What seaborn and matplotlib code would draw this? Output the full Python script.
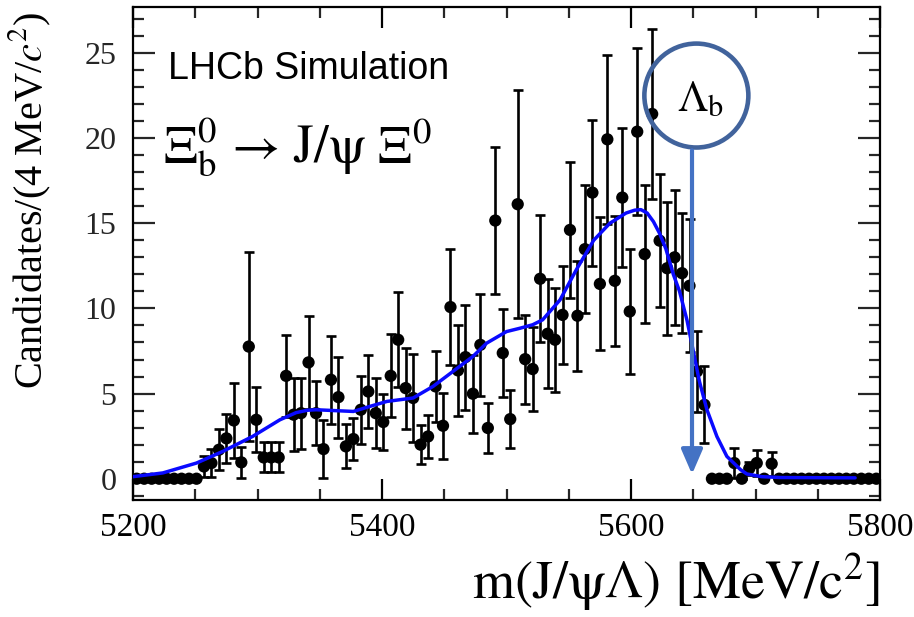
import numpy as np
import pandas as pd
import matplotlib
matplotlib.use("Agg")
import matplotlib.pyplot as plt
import seaborn as sns
from matplotlib.patches import Ellipse
from matplotlib.ticker import MultipleLocator

# ---------------------------------------------------------------
# Data
# ---------------------------------------------------------------
mass_lo, mass_hi, n_bins = 5200, 5800, 100
bin_centres = mass_lo + (np.arange(n_bins) + 0.5) * (mass_hi - mass_lo) / n_bins

counts = [0] * 9 + [
    0.72, 0.92, 1.7, 2.37, 3.42, 0.96, 7.76, 3.46, 1.25, 1.25, 1.25, 6.04,
    3.76, 3.85, 6.83, 3.85, 1.74, 5.81, 4.79, 1.9, 2.33, 4.05, 5.12, 3.85,
    3.33, 6.04, 8.16, 5.32, 4.74, 2.0, 2.48, 5.42, 3.11, 10.08, 6.36, 7.14,
    4.99, 7.86, 2.98, 15.16, 7.38, 3.50, 16.12, 7.02, 6.44, 11.74, 8.51, 8.16,
    9.62, 14.61, 9.57, 13.48, 16.8, 11.44, 19.93, 11.62, 16.51, 9.82, 20.38,
    13.19, 21.42, 13.98, 12.36, 13.0, 12.07, 11.33, 6.3, 4.34,
] + [0, 0, 0, 0.92, 0, 0.6, 0.92, 0, 0.88] + [0] * 14

errors = [0] * 9 + [
    0.63, 0.83, 1.2, 1.44, 2.2, 0.9, 5.56, 1.9, 0.88, 0.88, 0.88, 2.4,
    2.15, 2.08, 2.74, 1.88, 1.69, 2.58, 2.37, 1.3, 1.24, 2.0, 2.17, 2.05,
    1.62, 2.44, 2.79, 2.38, 2.58, 1.14, 1.24, 2.08, 1.94, 3.42, 2.67, 3.08,
    2.28, 3.0, 1.47, 4.3, 2.61, 1.72, 6.7, 2.61, 2.45, 3.74, 3.2, 3.06,
    2.9, 4.0, 3.22, 3.74, 4.28, 3.91, 4.98, 3.81, 4.08, 3.69, 4.89,
    4.04, 4.99, 3.91, 3.91, 3.97, 3.52, 3.9, 2.4, 2.27,
] + [0, 0, 0, 0.88, 0, 0.4, 0.76, 0, 0.7] + [0] * 14

# fit curve
fit_mass = [5200, 5224, 5251, 5272, 5296, 5318, 5331, 5340, 5347, 5362, 5377,
            5390, 5404, 5425, 5441, 5457, 5473, 5484, 5500, 5511, 5521, 5529,
            5543, 5556, 5570, 5583, 5596, 5603, 5608, 5613, 5618, 5623, 5628,
            5634, 5639, 5645, 5650, 5655, 5661, 5669, 5677, 5688, 5693, 5705,
            5720, 5780]
fit_value = [0.12, 0.34, 0.92, 1.6, 2.48, 3.46, 3.88, 4.02, 4.05, 4.0, 3.95,
             4.24, 4.54, 4.74, 5.42, 6.3, 7.18, 7.96, 8.64, 8.84, 9.04, 9.33,
             10.5, 12.26, 14.0, 15.0, 15.6, 15.77, 15.8, 15.6, 15.1, 14.4,
             13.5, 12.0, 11.0, 9.3, 7.5, 5.7, 4.05, 2.48, 1.31, 0.53, 0.28,
             0.12, 0.07, 0.05]

df = pd.DataFrame({"mass": bin_centres, "count": counts, "err": errors})
fit = pd.DataFrame({"mass": fit_mass, "value": fit_value})

# ---------------------------------------------------------------
# Style
# ---------------------------------------------------------------
sns.set_theme(style="ticks")
plt.rcParams["font.family"] = ["Liberation Serif", "DejaVu Serif"]
plt.rcParams["mathtext.fontset"] = "stix"
plt.rcParams["axes.linewidth"] = 1.6

fig = plt.figure(figsize=(9.14, 6.17), dpi=100)
ax = fig.add_axes([133 / 914, 1 - 500 / 617, 747 / 914, 493 / 617])

# data points with error bars
ax.errorbar(df["mass"], df["count"], yerr=df["err"], fmt="none",
            ecolor="black", elinewidth=1.9, capsize=3.5, capthick=1.9, zorder=2)
sns.scatterplot(data=df, x="mass", y="count", color="black", s=78,
                edgecolor="none", ax=ax, zorder=3)

# fit
sns.lineplot(data=fit, x="mass", y="value", color="#0a0aff", linewidth=2.5,
             ax=ax, zorder=4)

ax.set_xlim(5200, 5800)
ax.set_ylim(-1.25, 27.7)
ax.set_xlabel("")
ax.set_ylabel("")

ax.xaxis.set_major_locator(MultipleLocator(200))
ax.xaxis.set_minor_locator(MultipleLocator(50))
ax.yaxis.set_major_locator(MultipleLocator(5))
ax.yaxis.set_minor_locator(MultipleLocator(1))

ax.tick_params(axis="x", which="major", direction="in", length=15, width=1.6,
               labelsize=24, pad=9, colors="black")
ax.tick_params(axis="x", which="minor", direction="in", length=8, width=1.6)
ax.tick_params(axis="y", which="major", direction="in", length=16, width=1.6,
               labelsize=23, pad=12, right=True)
ax.tick_params(axis="y", which="minor", direction="in", length=8, width=1.6,
               right=True)
ax.tick_params(axis="x", which="both", top=True)
for s in ax.spines.values():
    s.set_color("black")

# axis titles
fig.text(30 / 914, 1 - 200 / 617, r"Candidates/(4 MeV/$c^{2}$)", rotation=90,
         ha="center", va="center", fontsize=29, color="black")
fig.text(880 / 914, 1 - 583 / 617, r"m(J/ψΛ) [MeV/c$^{2}$]",
         ha="right", va="center", fontsize=39, family="STIXGeneral",
         color="black")

# labels
ax.text(0.047, 0.875, "LHCb Simulation", transform=ax.transAxes,
        fontsize=27, family=["Liberation Sans", "DejaVu Sans"], ha="left",
        va="center", color="black")
ax.text(0.04, 0.715, r"$\Xi_{\mathrm{b}}^{0}$ → J/ψ $\Xi^{0}$",
        transform=ax.transAxes, fontsize=38, family="STIXGeneral",
        ha="left", va="center", color="black")

# Lambda_b marker
circ_x, circ_y = 5652.5, 22.5
ax.add_patch(Ellipse((circ_x, circ_y), width=2 * 52 / 1.245,
                     height=2 * 52 / 17.04, fill=False, edgecolor="#41639c",
                     linewidth=3.3, zorder=6))
ax.text(circ_x + 3, circ_y - 0.3, r"Λ$_{\mathrm{b}}$", fontsize=31,
        family="STIXGeneral", ha="center", va="center", color="black",
        zorder=7)
ax.annotate("", xy=(5649, 0.1), xytext=(5649, circ_y - 52 / 17.04),
            arrowprops=dict(arrowstyle="-|>,head_length=15,head_width=6.5",
                            mutation_scale=1, color="#4472c4", linewidth=3),
            zorder=6)

fig.savefig("out.png", dpi=100)
